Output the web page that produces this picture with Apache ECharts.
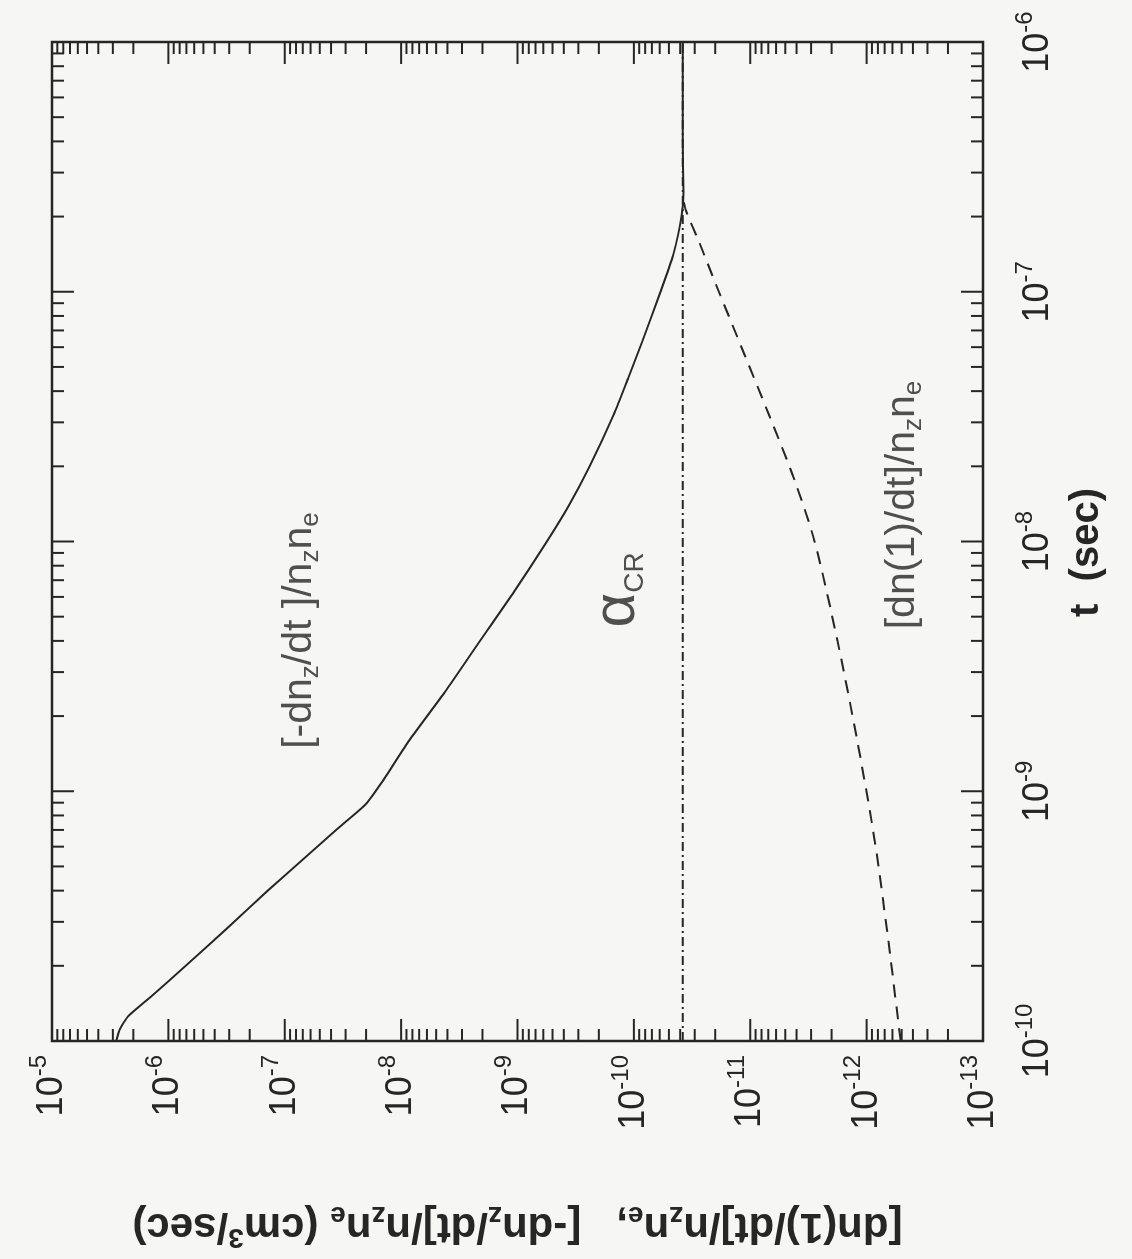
<!DOCTYPE html>
<html>
<head>
<meta charset="utf-8">
<script src="https://cdn.jsdelivr.net/npm/echarts@6/dist/echarts.min.js"></script>
<style>
  html, body { margin: 0; padding: 0; width: 1132px; height: 1259px; overflow: hidden; background: #f6f6f4; }
  /* the scan shows the figure turned a quarter to the left, so the chart is drawn upright and the box is turned */
  #main { position: absolute; left: 0; top: 0; width: 1259px; height: 1132px;
          transform-origin: 0 0; transform: translateY(1259px) rotate(-90deg); }
</style>
</head>
<body>
<div id="main"></div>
<script>
// axis decades
const timeDecades = [1e-10, 1e-9, 1e-8, 1e-7, 1e-6]
const rateDecades = [1e-13, 1e-12, 1e-11, 1e-10, 1e-9, 1e-8, 1e-7, 1e-6, 1e-5]

// [-dn_z/dt]/n_z n_e  (solid)
const lossTime = [1.0e-10, 1.12e-10, 1.26e-10, 1.51e-10, 2.0e-10, 2.8e-10, 4.0e-10, 5.6e-10, 7.1e-10, 8.9e-10,
  1.12e-9, 1.6e-9, 2.5e-9, 4.0e-9, 6.3e-9, 1.0e-8, 1.4e-8, 2.0e-8, 3.2e-8, 4.5e-8, 6.3e-8, 1.0e-7,
  1.4e-7, 2.0e-7, 2.5e-7, 4.0e-7, 6.3e-7, 1.0e-6]
const lossRate = [2.8e-6, 2.6e-6, 2.2e-6, 1.4e-6, 7.1e-7, 3.2e-7, 1.4e-7, 6.2e-8, 3.5e-8, 2.0e-8,
  1.4e-8, 8.5e-9, 4.2e-9, 2.1e-9, 1.07e-9, 5.6e-10, 3.6e-10, 2.4e-10, 1.5e-10, 1.12e-10, 8.5e-11, 5.9e-11,
  4.6e-11, 3.9e-11, 3.75e-11, 3.8e-11, 3.8e-11, 3.8e-11]

// alpha_CR  (dash-dot)
const alphaTime = [1e-10, 1e-6]
const alphaRate = [3.8e-11, 3.8e-11]

// [dn(1)/dt]/n_z n_e  (dashed)
const gainTime = [1.0e-10, 2.5e-10, 6.3e-10, 1.58e-9, 4.0e-9, 1.0e-8, 1.78e-8, 3.16e-8, 5.6e-8, 1.0e-7, 1.58e-7, 2.1e-7, 2.4e-7]
const gainRate = [5.1e-13, 6.5e-13, 8.5e-13, 1.2e-12, 1.78e-12, 2.8e-12, 4.2e-12, 6.8e-12, 1.12e-11, 1.86e-11, 2.75e-11, 3.55e-11, 3.8e-11]

// curve labels, anchored in data space
const notes = [
  { name: 'loss', value: [4.4e-9, 7.4e-8], text: '{m|[-dn}{s|z}{m|/dt ]/n}{s|z}{m|n}{s|e}' },
  { name: 'alpha', value: [6.4e-9, 1.39e-10], text: '{a|α}{c|CR}' },
  { name: 'gain', value: [1.4e-8, 4.9e-13], text: '{m|[dn(1)/dt]/n}{s|z}{m|n}{s|e}' }
]

const ink = '#262626'
const font = 'Liberation Sans, Arial, Helvetica, sans-serif'

const zip = (xs, ys) => xs.map((x, i) => [x, ys[i]])

// log minor ticks 2..9 inside every decade, plus the decades themselves
function tickValues(decades) {
  const out = []
  decades.forEach((d, i) => {
    out.push([d, 22])
    if (i < decades.length - 1) {
      for (let k = 2; k <= 9; k++) out.push([k * d, 12])
    }
  })
  return out
}

function tickSeries(decades, onTime) {
  return {
    type: 'custom',
    silent: true,
    z: 6,
    data: tickValues(decades).map(([v, len]) => onTime ? [v, 1e-9, len] : [1e-8, v, len]),
    renderItem(params, api) {
      const cs = params.coordSys
      const len = api.value(2)
      const p = api.coord([api.value(0), api.value(1)])
      const st = { stroke: ink, lineWidth: 2 }
      if (onTime) {
        const x = p[0], b = cs.y + cs.height
        return { type: 'group', children: [
          { type: 'line', shape: { x1: x, y1: b, x2: x, y2: b - len }, style: st },
          { type: 'line', shape: { x1: x, y1: cs.y, x2: x, y2: cs.y + len }, style: st }
        ] }
      }
      const y = p[1], r = cs.x + cs.width
      return { type: 'group', children: [
        { type: 'line', shape: { x1: cs.x, y1: y, x2: cs.x + len, y2: y }, style: st },
        { type: 'line', shape: { x1: r, y1: y, x2: r - len, y2: y }, style: st }
      ] }
    }
  }
}

const powLabel = v => '{b|10}{s|' + Math.round(Math.log10(v)) + '}'
const powRich = {
  b: { fontSize: 36, lineHeight: 50, color: ink, fontFamily: font },
  s: { fontSize: 24, lineHeight: 22, verticalAlign: 'top', color: ink, fontFamily: font }
}

const myChart = echarts.init(document.getElementById('main'))

const option = {
  backgroundColor: '#f6f6f4',
  animation: false,
  textStyle: { fontFamily: font, color: ink },
  grid: { left: 207, right: 42, top: 52, bottom: 149, show: true, borderColor: ink, borderWidth: 2.5 },
  xAxis: {
    type: 'log',
    logBase: 10,
    min: 1e-10,
    max: 1e-6,
    splitNumber: 4,
    name: 't  (sec)',
    nameLocation: 'middle',
    nameGap: 84,
    nameTextStyle: { fontSize: 40, fontWeight: 'bold', color: ink, fontFamily: font, padding: [0, 22, 0, 0] },
    axisLine: { show: false },
    axisTick: { show: false },
    splitLine: { show: false },
    axisLabel: { margin: 30, formatter: powLabel, rich: powRich }
  },
  yAxis: {
    type: 'log',
    logBase: 10,
    min: 1e-13,
    max: 1e-5,
    splitNumber: 8,
    name: '{m|[dn(1)/dt]/n}{s|z}{m|n}{s|e}{m|,   [-dn}{s|z}{m|/dt]/n}{s|z}{m|n}{s|e}{m| (cm}{p|3}{m|/sec)}',
    nameLocation: 'middle',
    nameRotate: 90,
    nameGap: 160,
    nameTextStyle: {
      rich: {
        m: { fontSize: 42, fontWeight: 'bold', lineHeight: 50, color: ink, fontFamily: font },
        s: { fontSize: 28, fontWeight: 'bold', lineHeight: 22, verticalAlign: 'bottom', color: ink, fontFamily: font },
        p: { fontSize: 28, fontWeight: 'bold', lineHeight: 22, verticalAlign: 'top', color: ink, fontFamily: font }
      }
    },
    axisLine: { show: false },
    axisTick: { show: false },
    splitLine: { show: false },
    axisLabel: { margin: 14, formatter: powLabel, rich: powRich }
  },
  series: [
    {
      name: 'loss',
      type: 'line',
      data: zip(lossTime, lossRate),
      showSymbol: false,
      smooth: 0.2,
      lineStyle: { color: ink, width: 2 },
      z: 4
    },
    {
      name: 'alpha',
      type: 'line',
      data: zip(alphaTime, alphaRate),
      showSymbol: false,
      lineStyle: { color: ink, width: 2, type: [9, 4, 2, 4] },
      z: 3
    },
    {
      name: 'gain',
      type: 'line',
      data: zip(gainTime, gainRate),
      showSymbol: false,
      smooth: 0.3,
      lineStyle: { color: ink, width: 2, type: [13, 9] },
      z: 3
    },
    {
      type: 'scatter',
      data: notes.map(n => ({ name: n.name, value: n.value })),
      symbolSize: 1,
      itemStyle: { color: 'rgba(0,0,0,0)' },
      silent: true,
      label: {
        show: true,
        position: 'inside',
        formatter: p => notes[p.dataIndex].text,
        rich: {
          m: { fontSize: 41, lineHeight: 48, color: ink, fontFamily: font },
          s: { fontSize: 26, lineHeight: 22, verticalAlign: 'bottom', color: ink, fontFamily: font },
          a: { fontSize: 60, lineHeight: 64, color: ink, fontFamily: font },
          c: { fontSize: 28, lineHeight: 26, verticalAlign: 'bottom', color: ink, fontFamily: font }
        }
      }
    },
    tickSeries(timeDecades, true),
    tickSeries(rateDecades, false)
  ]
}

myChart.setOption(option)
</script>
</body>
</html>
